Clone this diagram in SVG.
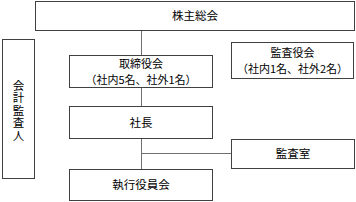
<svg xmlns="http://www.w3.org/2000/svg" width="356" height="202" viewBox="0 0 356 202">
<style>
.box{fill:#fff;stroke:#404040;stroke-width:1}
.t{font-family:"Noto Sans CJK JP","Noto Sans",sans-serif;font-size:11.5px;fill:#000;text-anchor:middle}
.s{font-size:11px}
.v{writing-mode:vertical-rl;letter-spacing:1px}
.c{stroke:#707070;stroke-width:1;fill:none}
</style>
<rect width="356" height="202" fill="#fff"/>
<g id="connectors">
<path class="c" d="M141.5 31V55.5M141.5 87.5V106.5M141.5 138.5V169.5M141.5 153.5H231.5"/>
</g>
<g id="shareholders">
<rect class="box" x="35.5" y="1.5" width="319" height="29"/>
<text class="t" x="195" y="20">株主総会</text>
</g>
<g id="auditor">
<rect class="box" x="2.5" y="39.5" width="32" height="139"/>
<text class="t v" x="18.5" y="111">会計監査人</text>
</g>
<g id="board">
<rect class="box" x="69.5" y="55.5" width="143" height="32"/>
<text class="t s" x="141" y="68">取締役会</text>
<text class="t s" x="141" y="83.5">（社内5名、社外1名）</text>
</g>
<g id="audit-board">
<rect class="box" x="231.5" y="42.5" width="122" height="36"/>
<text class="t s" x="292.5" y="56.5">監査役会</text>
<text class="t s" x="292.5" y="72.5">（社内1名、社外2名）</text>
</g>
<g id="president">
<rect class="box" x="69.5" y="106.5" width="143" height="32"/>
<text class="t" x="141" y="127">社長</text>
</g>
<g id="audit-office">
<rect class="box" x="231.5" y="139.5" width="123" height="29"/>
<text class="t" x="293" y="158">監査室</text>
</g>
<g id="executive">
<rect class="box" x="69.5" y="169.5" width="143" height="31"/>
<text class="t" x="141" y="189">執行役員会</text>
</g>
</svg>
